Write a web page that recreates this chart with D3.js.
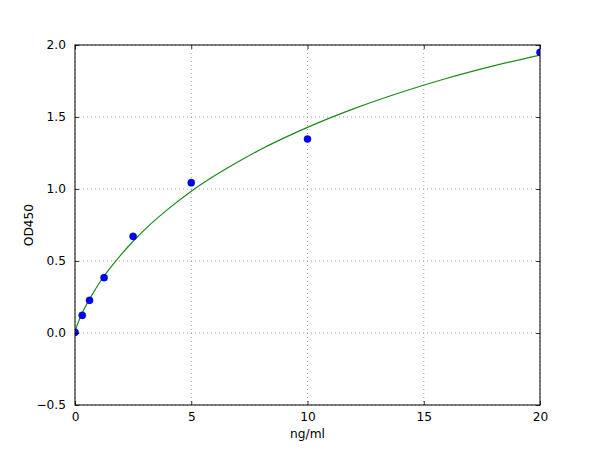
<!DOCTYPE html>
<html>
<head>
<meta charset="utf-8">
<script src="https://cdn.jsdelivr.net/npm/d3@7"></script>
<style>
  html, body { margin: 0; padding: 0; background: #fff; }
  svg { display: block; font-family: "DejaVu Sans", sans-serif; }
</style>
</head>
<body>
<svg id="chart" width="600" height="450"></svg>
<script>
// Measured standards (ng/ml vs OD450)
const concentrations = [0, 0.3125, 0.625, 1.25, 2.5, 5, 10, 20];
const odValues = [0.005, 0.123, 0.227, 0.384, 0.671, 1.044, 1.347, 1.949];

// Fitted curve
const curveX = [0, 0.02, 0.05, 0.1, 0.25, 0.5, 0.75, 1, 1.25, 1.5, 2, 2.5, 3, 4, 5, 6, 7, 8, 10, 12, 14, 16, 18, 20];
const curveY = [0, 0.016, 0.033, 0.058, 0.118, 0.200, 0.270, 0.335, 0.394, 0.448, 0.547, 0.637, 0.718, 0.860, 0.985, 1.092, 1.188, 1.276, 1.428, 1.558, 1.670, 1.769, 1.855, 1.930];

const xTicks = [0, 5, 10, 15, 20];
const yTicks = [-0.5, 0.0, 0.5, 1.0, 1.5, 2.0];
const xLabel = "ng/ml";
const yLabel = "OD450";

const svg = d3.select("#chart");
const mLeft = 75, mRight = 540, mTop = 45, mBottom = 405;
const fontSize = "12.2px";

const x = d3.scaleLinear().domain([0, 20]).range([mLeft, mRight]);
const y = d3.scaleLinear().domain([-0.5, 2.0]).range([mBottom, mTop]);

svg.append("rect").attr("width", 600).attr("height", 450).attr("fill", "#fff");

svg.append("defs").append("clipPath").attr("id", "clip")
  .append("rect").attr("x", mLeft).attr("y", mTop)
  .attr("width", mRight - mLeft).attr("height", mBottom - mTop);

// grid
const grid = svg.append("g");
grid.selectAll(".gx").data(xTicks).join("line").attr("class", "gx")
  .attr("x1", d => x(d)).attr("x2", d => x(d))
  .attr("y1", mTop).attr("y2", mBottom)
  .attr("stroke", "#8a8a8a").attr("stroke-width", 0.8).attr("stroke-dasharray", "1,3");
grid.selectAll(".gy").data(yTicks).join("line").attr("class", "gy")
  .attr("y1", d => y(d)).attr("y2", d => y(d))
  .attr("x1", mLeft).attr("x2", mRight)
  .attr("stroke", "#8a8a8a").attr("stroke-width", 0.8).attr("stroke-dasharray", "1,3");

// curve
const plot = svg.append("g").attr("clip-path", "url(#clip)");
const curvePts = curveX.map((d, i) => [d, curveY[i]]);
plot.append("path").datum(curvePts)
  .attr("fill", "none").attr("stroke", "#1a8a1a").attr("stroke-width", 1.2)
  .attr("d", d3.line().x(d => x(d[0])).y(d => y(d[1])).curve(d3.curveMonotoneX));

// points
plot.selectAll("circle").data(concentrations).join("circle")
  .attr("cx", d => x(d)).attr("cy", (d, i) => y(odValues[i]))
  .attr("r", 3.6).attr("fill", "#0000ff").attr("stroke", "#000080").attr("stroke-width", 0.4);

// axes (ticks inside on all four sides)
const tickLen = 4;
svg.append("g").attr("transform", `translate(0,${mBottom})`)
  .call(d3.axisBottom(x).tickValues(xTicks).tickSizeInner(-tickLen).tickSizeOuter(0).tickPadding(7).tickFormat(d3.format("d")));
svg.append("g").attr("transform", `translate(0,${mTop})`)
  .call(d3.axisTop(x).tickValues(xTicks).tickSizeInner(-tickLen).tickSizeOuter(0).tickFormat(""));
svg.append("g").attr("transform", `translate(${mLeft},0)`)
  .call(d3.axisLeft(y).tickValues(yTicks).tickSizeInner(-tickLen).tickSizeOuter(0).tickPadding(9)
    .tickFormat(d => d3.format(".1f")(d).replace("-", "\u2212")));
svg.append("g").attr("transform", `translate(${mRight},0)`)
  .call(d3.axisRight(y).tickValues(yTicks).tickSizeInner(-tickLen).tickSizeOuter(0).tickFormat(""));

svg.selectAll(".domain").remove();
svg.selectAll(".tick line").attr("stroke", "#000").attr("stroke-width", 0.8);
svg.selectAll(".tick text").attr("font-size", fontSize).attr("fill", "#000")
  .attr("font-family", "DejaVu Sans, sans-serif");

// frame
svg.append("rect").attr("x", mLeft).attr("y", mTop)
  .attr("width", mRight - mLeft).attr("height", mBottom - mTop)
  .attr("fill", "none").attr("stroke", "#000").attr("stroke-width", 1);

// labels
svg.append("text").attr("x", (mLeft + mRight) / 2).attr("y", 438)
  .attr("text-anchor", "middle").attr("font-size", fontSize).text(xLabel);
svg.append("text").attr("transform", `translate(33,${(mTop + mBottom) / 2}) rotate(-90)`)
  .attr("text-anchor", "middle").attr("font-size", fontSize).text(yLabel);
</script>
</body>
</html>
